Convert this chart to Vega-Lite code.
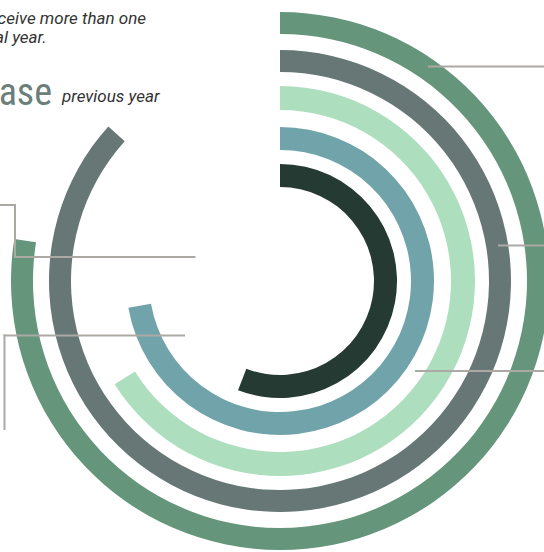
{
  "$schema": "https://vega.github.io/schema/vega-lite/v6.json",
  "width": 544,
  "height": 552,
  "autosize": "none",
  "padding": 0,
  "background": "white",
  "config": {"view": {"stroke": null}},
  "datasets": {
    "rings": [
      {"ring": "E", "start": 0, "end": 279, "inner": 247, "outer": 269},
      {"ring": "D", "start": 0, "end": 312, "inner": 209, "outer": 231},
      {"ring": "C", "start": 0, "end": 238, "inner": 171, "outer": 195},
      {"ring": "B", "start": 0, "end": 260, "inner": 131, "outer": 154},
      {"ring": "A", "start": 0, "end": 201, "inner": 94, "outer": 117}
    ],
    "leaders": [
      {"x1": 148, "x2": 270, "y1": 214.5, "y2": 214.5},
      {"x1": 218, "x2": 270, "y1": 35.5, "y2": 35.5},
      {"x1": 135, "x2": 270, "y1": -90, "y2": -90},
      {"x1": -290, "x2": -265, "y1": 76, "y2": 76},
      {"x1": -265, "x2": -265, "y1": 77, "y2": 23},
      {"x1": -266, "x2": -84.5, "y1": 24, "y2": 24},
      {"x1": -95, "x2": -276.5, "y1": -54.5, "y2": -54.5},
      {"x1": -275.5, "x2": -275.5, "y1": -53.5, "y2": -149}
    ],
    "notes": [
      {"label": "receive more than one", "x": -134, "y": 257},
      {"label": "fiscal year.", "x": -233.5, "y": 238}
    ],
    "headline": [
      {"label": "increase", "x": -228, "y": 176}
    ],
    "sub": [
      {"label": "previous year", "x": -218, "y": 179}
    ]
  },
  "layer": [
    {
      "data": {"name": "rings"},
      "mark": {"type": "arc"},
      "encoding": {
        "x": {"datum": 0, "type": "quantitative", "scale": {"domain": [-280, 264], "nice": false, "zero": false}, "axis": null},
        "y": {"datum": 0, "type": "quantitative", "scale": {"domain": [-271, 281], "nice": false, "zero": false}, "axis": null},
        "theta": {"field": "start", "type": "quantitative", "stack": null, "scale": {"domain": [0, 360], "range": [0, 6.283185307179586]}},
        "theta2": {"field": "end"},
        "radius": {"field": "outer", "type": "quantitative", "scale": {"type": "linear", "domain": [0, 300], "range": [0, 300], "zero": true}},
        "radius2": {"field": "inner"},
        "color": {"field": "ring", "type": "nominal", "legend": null, "scale": {"domain": ["A", "B", "C", "D", "E"], "range": ["#263a34", "#71a3aa", "#addfbf", "#667775", "#65957a"]}}
      }
    },
    {
      "data": {"name": "leaders"},
      "mark": {"type": "rule", "color": "#aca9a5", "strokeWidth": 2},
      "encoding": {
        "x": {"field": "x1", "type": "quantitative"},
        "x2": {"field": "x2"},
        "y": {"field": "y1", "type": "quantitative"},
        "y2": {"field": "y2"}
      }
    },
    {
      "data": {"name": "notes"},
      "mark": {"type": "text", "align": "right", "baseline": "alphabetic", "font": "Roboto", "fontStyle": "italic", "fontSize": 17, "color": "#333333"},
      "encoding": {
        "x": {"field": "x", "type": "quantitative"},
        "y": {"field": "y", "type": "quantitative"},
        "text": {"field": "label"}
      }
    },
    {
      "data": {"name": "headline"},
      "mark": {"type": "text", "align": "right", "baseline": "alphabetic", "font": "Roboto Condensed, Liberation Sans Narrow, Roboto", "fontSize": 38, "color": "#6a7f79"},
      "encoding": {
        "x": {"field": "x", "type": "quantitative"},
        "y": {"field": "y", "type": "quantitative"},
        "text": {"field": "label"}
      }
    },
    {
      "data": {"name": "sub"},
      "mark": {"type": "text", "align": "left", "baseline": "alphabetic", "font": "Roboto", "fontStyle": "italic", "fontSize": 17, "color": "#333333"},
      "encoding": {
        "x": {"field": "x", "type": "quantitative"},
        "y": {"field": "y", "type": "quantitative"},
        "text": {"field": "label"}
      }
    }
  ]
}
